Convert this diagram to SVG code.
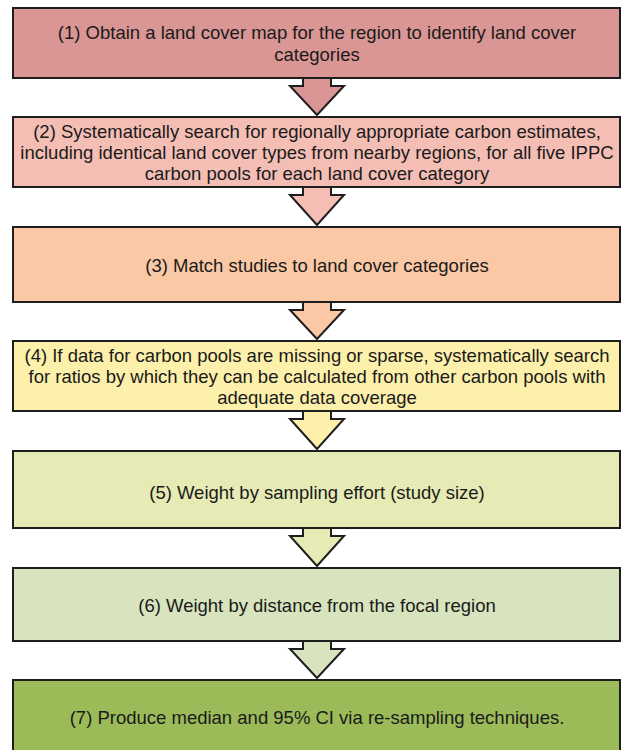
<svg xmlns="http://www.w3.org/2000/svg" width="622" height="750" viewBox="0 0 622 750">
<style>
.box{stroke:#1e1e1e;stroke-width:2}
.arr{stroke:#1e1e1e;stroke-width:2;stroke-linejoin:miter}
text{font-family:"Liberation Sans",Arial,sans-serif;font-size:18.5px;fill:#1a1a1a;text-anchor:middle}
</style>
<rect width="622" height="750" fill="#ffffff"/>
<g id="connectors">
<polygon class="arr" fill="#D99694" points="303,78 303,86 290,86 317,115 344,86 331,86 331,78"/>
<polygon class="arr" fill="#F4BEB5" points="303,187 303,195 290,195 317,225 344,195 331,195 331,187"/>
<polygon class="arr" fill="#FAC8A4" points="303,302 303,310 290,310 317,339 344,310 331,310 331,302"/>
<polygon class="arr" fill="#FCF0AA" points="303,411 303,419 290,419 317,449 344,419 331,419 331,411"/>
<polygon class="arr" fill="#E6EAB4" points="303,528 303,536 290,536 317,566 344,536 331,536 331,528"/>
<polygon class="arr" fill="#D7E4BD" points="303,641 303,649 290,649 317,678 344,649 331,649 331,641"/>
</g>
<g id="node1">
<rect class="box" x="13" y="8" width="607" height="70" fill="#D99694"/>
<text x="317" y="38.5">(1) Obtain a land cover map for the region to identify land cover</text>
<text x="317" y="60.5">categories</text>
</g>
<g id="node2">
<rect class="box" x="13" y="117" width="607" height="70" fill="#F4BEB5"/>
<text x="317" y="137.5">(2) Systematically search for  regionally appropriate carbon estimates,</text>
<text x="317" y="158.5">including identical land cover types from nearby regions, for all five IPPC</text>
<text x="317" y="179.5">carbon pools for each land cover category</text>
</g>
<g id="node3">
<rect class="box" x="13" y="227" width="607" height="75" fill="#FAC8A4"/>
<text x="317" y="271.5">(3) Match studies to land cover categories</text>
</g>
<g id="node4">
<rect class="box" x="13" y="341" width="607" height="70" fill="#FCF0AA"/>
<text x="317" y="361.5">(4) If data for carbon pools are missing or sparse, systematically search</text>
<text x="317" y="382.5">for ratios by which they can be calculated from other carbon pools with</text>
<text x="317" y="403.5">adequate data coverage</text>
</g>
<g id="node5">
<rect class="box" x="13" y="451" width="607" height="77" fill="#E6EAB4"/>
<text x="317" y="498.5">(5) Weight by sampling effort (study size)</text>
</g>
<g id="node6">
<rect class="box" x="13" y="568" width="607" height="73" fill="#D7E4BD"/>
<text x="317" y="611.5">(6) Weight by distance from the focal region</text>
</g>
<g id="node7">
<rect class="box" x="13" y="680" width="607" height="80" fill="#9BBB59"/>
<text x="317" y="723.5">(7) Produce median and 95% CI via re-sampling techniques.</text>
</g>
</svg>
